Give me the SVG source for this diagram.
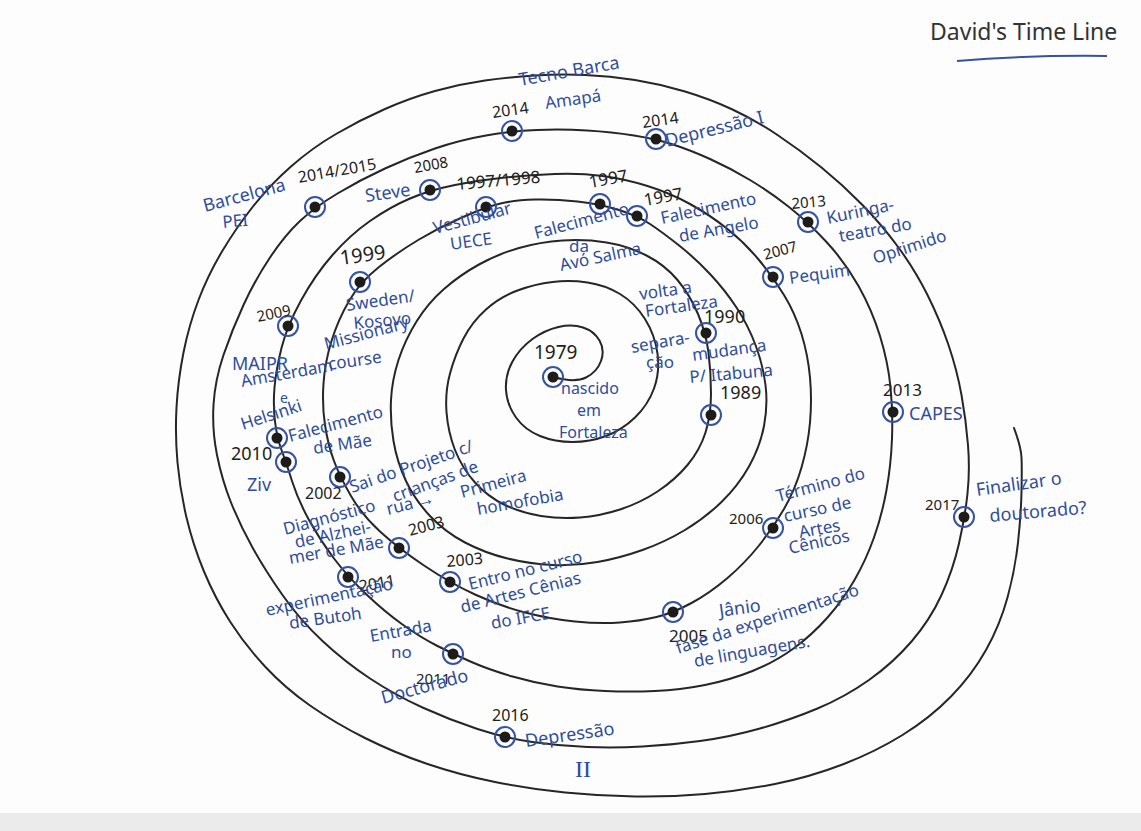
<svg xmlns="http://www.w3.org/2000/svg" width="1141" height="831" viewBox="0 0 1141 831">
<style>
.ring{fill:none;stroke:#3553a3;stroke-width:2}
.dot{fill:#1c1c1c}
.b{fill:#2f4d9c;font-family:"Noto Sans",sans-serif;font-size:17px}
.k{fill:#222;font-family:"Noto Sans",sans-serif;font-size:16px}
.spiral{fill:none;stroke:#262626;stroke-width:2;stroke-linecap:round;stroke-linejoin:round}
</style>
<rect x="0" y="0" width="1141" height="831" fill="#fdfdfd"/>
<rect x="0" y="813" width="1141" height="18" fill="#ebebeb"/>
<g id="title">
<text x="930" y="40" style="fill:#333;font-family:'Noto Sans',sans-serif;font-size:23px">David's Time Line</text>
<path d="M957 61 Q1030 55 1107 56" fill="none" stroke="#3553a3" stroke-width="2"/>
</g>
<g id="connectors">
<path class="spiral" d="M553 377 Q575 383 586 377.5 T601 361 T599.5 340.5 T583 327.5 T558.5 327 T532.5 339 T512.5 361.5 T506 390 T516 417.5 T540 436 T572.5 442 T606 436 T635 417.5 T654 388.5 T657.5 353.5 T645 319 T620 294 T587.5 282.5 T552.5 282 T517.5 290.5 T486 309.5 T463.5 338.5 T450 373.5 T446.5 412 T455 450 T475 482.5 T505 505 T541 516 T580 517.5 T620 509.5 T657.5 491.5 T687.5 465 T705.5 432.5 T711 393.5 T708.5 352.5 T698 314 T677.5 280 T646.5 255.5 T606.5 242.5 T562.5 240.5 T519 248 T479 264.5 T444 289 T416.5 321.5 T398.5 360 T391 400 T393.5 441 T406 481 T430 516 T465 542.5 T507.5 558.5 T552.5 565 T597.5 562 T642.5 550 T685 530 T721.5 502 T749 466.5 T764 426 T765.5 385 T755.5 345 T736.5 307.5 T710 274 T678.5 245 T650 224 T619 210 T577.5 201.5 T535 199.5 T500.5 203.5 T463 217 T419 239.5 T379 267 T349 301 T331.5 341 T323.5 383.5 T325 425 T334 461 T351 496 T380 531.5 T424 565.5 T475 594.5 T525 612.5 T575 621.5 T620 622.5 T656.5 617 T691.5 603 T727.5 578 T759 545.5 T784 509 T801.5 467.5 T810 422.5 T810 377.5 T801.5 334 T784 295 T759 260 T727.5 229 T690 204 T647.5 186 T602.5 176 T555 174 T505 177.5 T455 185 T410 198.5 T370 221 T332.5 255 T301 300.5 T281.5 348 T274.5 387.5 T275 421.5 T281.5 450 T292 481 T309 520 T334 558.5 T366.5 594.5 T402.5 624.5 T436.5 645.5 T471.5 662 T512.5 676.5 T557.5 686.5 T605 691 T655 691 T705 685 T752.5 671 T793.5 648.5 T827.5 617.5 T854.5 580 T874 537.5 T886.5 490 T892 438.5 T890.5 387 T880 336 T858.5 286 T826.5 242 T789 207 T750 180 T710 159 T673 144.5 T634 135.5 T587 130.5 T537 130 T486 135.5 T435 148.5 T385 168.5 T337.5 193.5 T300 221 T270 257.5 T243.5 305 T223.5 355 T213.5 405 T217 455 T231 502.5 T252.5 547.5 T282.5 595 T322.5 641 T370 678.5 T422.5 707.5 T477.5 729 T532.5 742 T587.5 747 T642.5 746.5 T700 741 T760 728.5 T817.5 708.5 T869 680 T911.5 641.5 T941.5 595 T959 543.5 T967.5 493.5 T968 445 T961.5 395 T948.5 345 T927.5 295 T898.5 247.5 T862.5 205 T821.5 167.5 T777.5 135 T732.5 109.5 T685 91.5 T635 80 T585 75 T535 75.5 T485 80.5 T435 91 T385 109 T336 134 T291 166.5 T253 206.5 T222 251.5 T198.5 300 T183.5 352.5 T176.5 407.5 T177.5 462.5 T186.5 517.5 T204 571.5 T230 621.5 T265 666.5 T310 705.5 T365 738 T427.5 764 T495 782 T565 792.5 T635 796.5 T705 794 T775 784 T842.5 764.5 T902.5 735 T951 696.5 T986 650 T1007.5 597.5 T1018 542.5 T1021.5 491.5 T1021.5 457.5 Q1021 447 1014 428"/>
</g>
<g id="n1979">
<circle class="ring" cx="553" cy="377" r="10"/><circle class="dot" cx="553" cy="377" r="5.5"/>
<text class="k" x="534" y="359" style="font-size:19px">1979</text>
<text class="b" x="561" y="394" style="font-size:16px">nascido</text>
<text class="b" x="577" y="416" style="font-size:16px">em</text>
<text class="b" x="559" y="438" style="font-size:16px">Fortaleza</text>
</g>
<g id="n1989">
<circle class="ring" cx="711" cy="415" r="10"/><circle class="dot" cx="711" cy="415" r="5.5"/>
<text class="k" x="720" y="399" style="font-size:18px">1989</text>
<text class="b" x="693" y="361" transform="rotate(-8 693 361)">mudança</text>
<text class="b" x="690" y="383" transform="rotate(-5 690 383)">P/ Itabuna</text>
</g>
<g id="n1990">
<circle class="ring" cx="706" cy="333" r="10"/><circle class="dot" cx="706" cy="333" r="5.5"/>
<text class="k" x="704" y="323" style="font-size:18px">1990</text>
<text class="b" x="640" y="300" transform="rotate(-8 640 300)">volta a</text>
<text class="b" x="646" y="317" transform="rotate(-8 646 317)">Fortaleza</text>
<text class="b" x="632" y="353" transform="rotate(-10 632 353)">separa-</text>
<text class="b" x="646" y="368">ção</text>
</g>
<g id="n1997a">
<circle class="ring" cx="486" cy="207" r="10"/><circle class="dot" cx="486" cy="207" r="5.5"/>
<text class="k" x="457" y="190" transform="rotate(-5 457 190)" style="font-size:17px">1997/1998</text>
<text class="b" x="435" y="234" transform="rotate(-15 435 234)">Vestibular</text>
<text class="b" x="451" y="250" transform="rotate(-8 451 250)">UECE</text>
</g>
<g id="n1997b">
<circle class="ring" cx="600" cy="204" r="10"/><circle class="dot" cx="600" cy="204" r="5.5"/>
<text class="k" x="590" y="188" transform="rotate(-10 590 188)" style="font-size:17px">1997</text>
<text class="b" x="536" y="239" transform="rotate(-15 536 239)">Falecimento</text>
<text class="b" x="569" y="252">da</text>
<text class="b" x="561" y="271" transform="rotate(-12 561 271)">Avó Salma</text>
</g>
<g id="n1997c">
<circle class="ring" cx="637" cy="216" r="10"/><circle class="dot" cx="637" cy="216" r="5.5"/>
<text class="k" x="645" y="206" transform="rotate(-10 645 206)" style="font-size:17px">1997</text>
<text class="b" x="662" y="224" transform="rotate(-12 662 224)">Falecimento</text>
<text class="b" x="680" y="242" transform="rotate(-10 680 242)">de Angelo</text>
</g>
<g id="n1999">
<circle class="ring" cx="360" cy="282" r="10"/><circle class="dot" cx="360" cy="282" r="5.5"/>
<text class="k" x="341" y="265" transform="rotate(-8 341 265)" style="font-size:20px">1999</text>
<text class="b" x="347" y="311" transform="rotate(-8 347 311)">Sweden/</text>
<text class="b" x="354" y="329" transform="rotate(-5 354 329)">Kosovo</text>
<text class="b" x="326" y="350" transform="rotate(-15 326 350)">Missionary</text>
<text class="b" x="329" y="370" transform="rotate(-8 329 370)">course</text>
</g>
<g id="n2002">
<circle class="ring" cx="340" cy="477" r="10"/><circle class="dot" cx="340" cy="477" r="5.5"/>
<text class="k" x="305" y="499">2002</text>
<text class="b" x="352" y="493" transform="rotate(-19 352 493)">Sai do Projeto c/</text>
<text class="b" x="395" y="502" transform="rotate(-20 395 502)">crianças de</text>
<text class="b" x="388" y="515" transform="rotate(-14 388 515)">rua →</text>
<text class="b" x="462" y="498" transform="rotate(-15 462 498)">Primeira</text>
<text class="b" x="478" y="515" transform="rotate(-10 478 515)">homofobia</text>
</g>
<g id="n2003a">
<circle class="ring" cx="399" cy="548" r="10"/><circle class="dot" cx="399" cy="548" r="5.5"/>
<text class="k" x="410" y="536" transform="rotate(-15 410 536)">2003</text>
<text class="b" x="285" y="535" transform="rotate(-15 285 535)">Diagnóstico</text>
<text class="b" x="296" y="548" transform="rotate(-12 296 548)">de Alzhei-</text>
<text class="b" x="290" y="564" transform="rotate(-10 290 564)">mer de Mãe</text>
</g>
<g id="n2003b">
<circle class="ring" cx="450" cy="582" r="10"/><circle class="dot" cx="450" cy="582" r="5.5"/>
<text class="k" x="447" y="567" transform="rotate(-5 447 567)">2003</text>
<text class="b" x="470" y="590" transform="rotate(-14 470 590)">Entro no curso</text>
<text class="b" x="462" y="613" transform="rotate(-14 462 613)">de Artes Cênias</text>
<text class="b" x="492" y="629" transform="rotate(-10 492 629)">do IFCE</text>
</g>
<g id="n2005">
<circle class="ring" cx="673" cy="612" r="10"/><circle class="dot" cx="673" cy="612" r="5.5"/>
<text class="k" x="669" y="642" style="font-size:17px">2005</text>
<text class="b" x="720" y="617" transform="rotate(-8 720 617)" style="font-size:18px">Jânio</text>
<text class="b" x="678" y="654" transform="rotate(-18 678 654)">fase da experimentação</text>
<text class="b" x="695" y="667" transform="rotate(-10 695 667)">de linguagens.</text>
</g>
<g id="n2006">
<circle class="ring" cx="773" cy="528" r="10"/><circle class="dot" cx="773" cy="528" r="5.5"/>
<text class="k" x="729" y="524" style="font-size:15px">2006</text>
<text class="b" x="778" y="502" transform="rotate(-15 778 502)">Término do</text>
<text class="b" x="785" y="522" transform="rotate(-12 785 522)">curso de</text>
<text class="b" x="800" y="538" transform="rotate(-10 800 538)">Artes</text>
<text class="b" x="790" y="554" transform="rotate(-12 790 554)">Cênicos</text>
</g>
<g id="n2007">
<circle class="ring" cx="773" cy="277" r="10"/><circle class="dot" cx="773" cy="277" r="5.5"/>
<text class="k" x="765" y="260" transform="rotate(-15 765 260)" style="font-size:15px">2007</text>
<text class="b" x="790" y="284" transform="rotate(-8 790 284)">Pequim</text>
</g>
<g id="n2008">
<circle class="ring" cx="430" cy="190" r="10"/><circle class="dot" cx="430" cy="190" r="5.5"/>
<text class="k" x="415" y="173" transform="rotate(-10 415 173)" style="font-size:15px">2008</text>
<text class="b" x="366" y="202" transform="rotate(-8 366 202)" style="font-size:18px">Steve</text>
</g>
<g id="n2009">
<circle class="ring" cx="288" cy="326" r="10"/><circle class="dot" cx="288" cy="326" r="5.5"/>
<text class="k" x="258" y="322" transform="rotate(-12 258 322)" style="font-size:15px">2009</text>
<text class="b" x="232" y="370" style="font-size:18px">MAIPR</text>
<text class="b" x="242" y="387" transform="rotate(-10 242 387)">Amsterdam</text>
<text class="b" x="280" y="403" style="font-size:14px">e</text>
<text class="b" x="243" y="430" transform="rotate(-18 243 430)">Helsinki</text>
</g>
<g id="n2010a">
<circle class="ring" cx="277" cy="438" r="10"/><circle class="dot" cx="277" cy="438" r="5.5"/>
<text class="k" x="231" y="460" style="font-size:18px">2010</text>
<text class="b" x="290" y="442" transform="rotate(-15 290 442)">Falecimento</text>
<text class="b" x="314" y="454" transform="rotate(-8 314 454)">de Mãe</text>
</g>
<g id="n2010b">
<circle class="ring" cx="286" cy="462" r="10"/><circle class="dot" cx="286" cy="462" r="5.5"/>
<text class="b" x="247" y="491" style="font-size:18px">Ziv</text>
</g>
<g id="n2011a">
<circle class="ring" cx="348" cy="577" r="10"/><circle class="dot" cx="348" cy="577" r="5.5"/>
<text class="k" x="360" y="592" transform="rotate(-10 360 592)">2011</text>
<text class="b" x="267" y="616" transform="rotate(-12 267 616)">experimentação</text>
<text class="b" x="290" y="629" transform="rotate(-8 290 629)">de Butoh</text>
</g>
<g id="n2011b">
<circle class="ring" cx="453" cy="654" r="10"/><circle class="dot" cx="453" cy="654" r="5.5"/>
<text class="k" x="416" y="684" style="font-size:15px">2011</text>
<text class="b" x="371" y="642" transform="rotate(-10 371 642)">Entrada</text>
<text class="b" x="391" y="658">no</text>
<text class="b" x="383" y="704" transform="rotate(-15 383 704)" style="font-size:18px">Doctorado</text>
</g>
<g id="n2013a">
<circle class="ring" cx="893" cy="412" r="10"/><circle class="dot" cx="893" cy="412" r="5.5"/>
<text class="k" x="883" y="396" style="font-size:17px">2013</text>
<text class="b" x="909" y="420" style="font-size:18px">CAPES</text>
</g>
<g id="n2013b">
<circle class="ring" cx="808" cy="222" r="10"/><circle class="dot" cx="808" cy="222" r="5.5"/>
<text class="k" x="792" y="209" transform="rotate(-5 792 209)" style="font-size:15px">2013</text>
<text class="b" x="828" y="224" transform="rotate(-12 828 224)">Kuringa-</text>
<text class="b" x="840" y="242" transform="rotate(-10 840 242)">teatro do</text>
<text class="b" x="875" y="264" transform="rotate(-18 875 264)">Oprimido</text>
</g>
<g id="n2014a">
<circle class="ring" cx="656" cy="139" r="10"/><circle class="dot" cx="656" cy="139" r="5.5"/>
<text class="k" x="643" y="128" transform="rotate(-8 643 128)">2014</text>
<text class="b" x="667" y="147" transform="rotate(-14 667 147)" style="font-size:18px">Depressão I</text>
</g>
<g id="n2014b">
<circle class="ring" cx="512" cy="131" r="10"/><circle class="dot" cx="512" cy="131" r="5.5"/>
<text class="k" x="493" y="118" transform="rotate(-8 493 118)">2014</text>
<text class="b" x="520" y="86" transform="rotate(-10 520 86)" style="font-size:18px">Tecno Barca</text>
<text class="b" x="546" y="109" transform="rotate(-8 546 109)">Amapá</text>
</g>
<g id="n2014c">
<circle class="ring" cx="315" cy="207" r="10"/><circle class="dot" cx="315" cy="207" r="5.5"/>
<text class="k" x="299" y="183" transform="rotate(-10 299 183)">2014/2015</text>
<text class="b" x="205" y="212" transform="rotate(-15 205 212)" style="font-size:18px">Barcelona</text>
<text class="b" x="223" y="228" transform="rotate(-5 223 228)">PEI</text>
</g>
<g id="n2016">
<circle class="ring" cx="505" cy="737" r="10"/><circle class="dot" cx="505" cy="737" r="5.5"/>
<text class="k" x="492" y="721">2016</text>
<text class="b" x="526" y="747" transform="rotate(-8 526 747)" style="font-size:18px">Depressão</text>
<text class="b" x="575" y="777" style="font-family:'Liberation Serif',serif;font-size:24px">II</text>
</g>
<g id="n2017">
<circle class="ring" cx="964" cy="517" r="10"/><circle class="dot" cx="964" cy="517" r="5.5"/>
<text class="k" x="925" y="510" style="font-size:15px">2017</text>
<text class="b" x="977" y="496" transform="rotate(-8 977 496)" style="font-size:18px">Finalizar o</text>
<text class="b" x="990" y="522" transform="rotate(-5 990 522)" style="font-size:18px">doutorado?</text>
</g>
</svg>
